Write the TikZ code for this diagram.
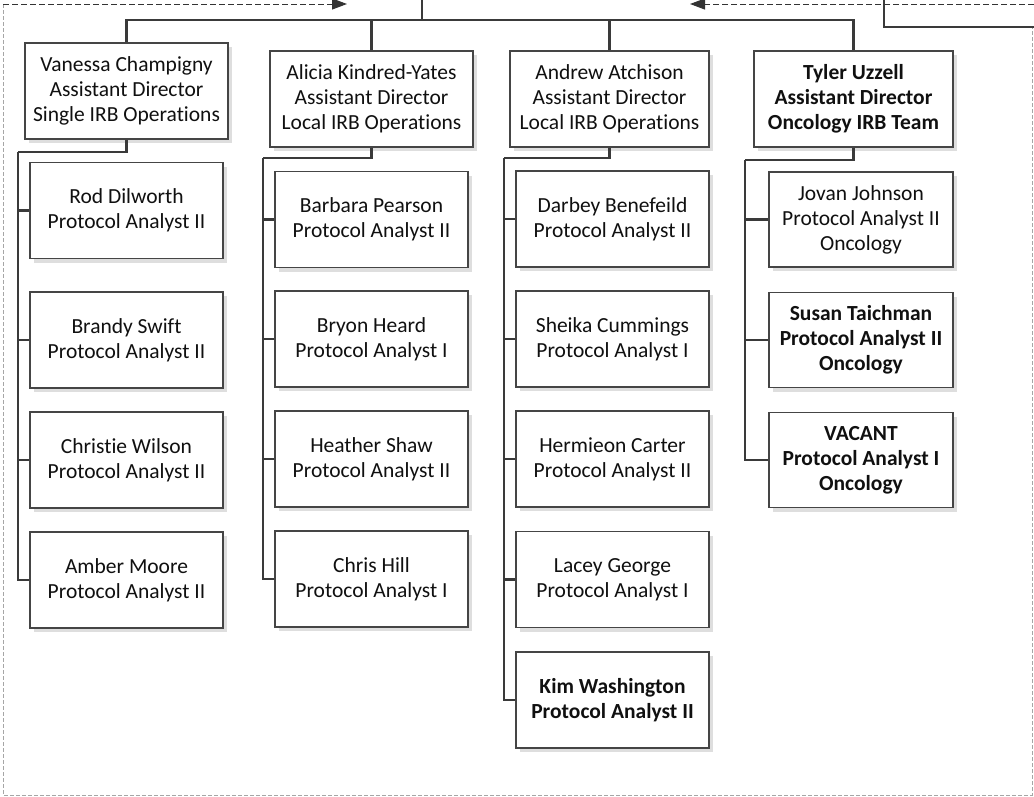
\documentclass[tikz,border=0pt]{standalone}
\usepackage{fontspec}
\setmainfont{Carlito}[Ligatures=NoCommon]
\usetikzlibrary{shadows,arrows.meta}
\definecolor{lineC}{HTML}{3A3A3A}
\definecolor{boxC}{HTML}{454545}
\definecolor{txtC}{HTML}{101010}
\definecolor{frameC}{HTML}{A6A6A6}
\definecolor{arrC}{HTML}{333333}
\newcommand\boxfont{\fontsize{21.5}{25}\selectfont}
\tikzset{
  conn/.style={line width=2.8pt, draw=lineC},
  box/.style={draw=boxC, line width=1.9pt, fill=white, inner sep=0pt, align=center,
    font=\boxfont, text=txtC,
    drop shadow={shadow xshift=4pt, shadow yshift=-4pt, fill=black!13, opacity=1}},
  pbox/.style={box, minimum width=203pt, minimum height=96pt},
  pboxn/.style={box, minimum width=199pt, minimum height=96pt},
  cbox/.style={box, minimum width=193pt, minimum height=96pt},
  tbox/.style={box, minimum width=184pt, minimum height=95pt},
  darr/.style={draw=arrC, line width=1pt, dash pattern=on 6pt off 3pt, -{Triangle[length=15pt,width=11pt]}},
  frame/.style={draw=frameC, line width=1pt, dash pattern=on 4pt off 2pt},
}
\begin{document}
\begin{tikzpicture}[x=1pt,y=-1pt]
\useasboundingbox (0,0) rectangle (1034,796);
% frame
\draw[frame] (3,4) -- (3,795) -- (1032,795) -- (1032,27);
% coordinates
\coordinate (la0) at (3,4);
\coordinate (la1) at (347,4);
\coordinate (ra0) at (1034,4);
\coordinate (ra1) at (690,4);
\coordinate (top) at (422,0);
\coordinate (hub) at (422,20);
\coordinate (rt0) at (884,0);
\coordinate (rt1) at (1034,27);
\coordinate (vj) at (18,152);
\coordinate (aj) at (263,158);
\coordinate (nj) at (504,158);
\coordinate (tj) at (745,160);
% dashed arrows
\draw[darr] (la0) -- (la1);
\draw[darr] (ra0) -- (ra1);
% parents
\node[pbox] (van) at (126.5,91) {Vanessa Champigny\\Assistant Director\\Single IRB Operations};
\node[pbox] (ali) at (371.5,99) {Alicia Kindred-Yates\\Assistant Director\\Local IRB Operations};
\node[pboxn] (andr) at (609.5,99) {Andrew Atchison\\Assistant Director\\Local IRB Operations};
\node[pboxn, font=\boxfont\bfseries] (tyl) at (853.5,99) {Tyler Uzzell\\Assistant Director\\Oncology IRB Team};
% Vanessa children
\node[cbox] (rod) at (126.5,210.5) {Rod Dilworth\\Protocol Analyst II};
\node[cbox] (bra) at (126.5,340) {Brandy Swift\\Protocol Analyst II};
\node[cbox] (chr) at (126.5,460) {Christie Wilson\\Protocol Analyst II};
\node[cbox] (amb) at (126.5,580) {Amber Moore\\Protocol Analyst II};
% Alicia children
\node[cbox] (bar) at (371.5,219.5) {Barbara Pearson\\Protocol Analyst II};
\node[cbox] (bry) at (371.5,339) {Bryon Heard\\Protocol Analyst I};
\node[cbox] (hea) at (371.5,459) {Heather Shaw\\Protocol Analyst II};
\node[cbox] (chi) at (371.5,579) {Chris Hill\\Protocol Analyst I};
% Andrew children
\node[cbox] (dar) at (612.5,219) {Darbey Benefeild\\Protocol Analyst II};
\node[cbox] (she) at (612.5,339) {Sheika Cummings\\Protocol Analyst I};
\node[cbox] (her) at (612.5,459) {Hermieon Carter\\Protocol Analyst II};
\node[cbox] (lac) at (612.5,579.5) {Lacey George\\Protocol Analyst I};
\node[cbox, font=\boxfont\bfseries] (kim) at (612.5,700) {Kim Washington\\Protocol Analyst II};
% Tyler children
\node[tbox] (jov) at (861,219.5) {Jovan Johnson\\Protocol Analyst II\\Oncology};
\node[tbox, font=\boxfont\bfseries] (sus) at (861,340) {Susan Taichman\\Protocol Analyst II\\Oncology};
\node[tbox, font=\boxfont\bfseries] (vac) at (861,460) {VACANT\\Protocol Analyst I\\Oncology};
% top connectors
\draw[conn] (top) -- (hub);
\draw[conn] (rt0) |- (rt1);
\draw[conn] (van.north) |- (hub);
\draw[conn] (ali.north) |- (hub);
\draw[conn] (andr.north) |- (hub);
\draw[conn] (tyl.north) |- (hub);
% group connectors
\draw[conn] (van.south) |- (vj);
\foreach \c in {rod,bra,chr,amb} \draw[conn] (vj) |- (\c.west);
\draw[conn] (ali.south) |- (aj);
\foreach \c in {bar,bry,hea,chi} \draw[conn] (aj) |- (\c.west);
\draw[conn] (andr.south) |- (nj);
\foreach \c in {dar,she,her,lac,kim} \draw[conn] (nj) |- (\c.west);
\draw[conn] (tyl.south) |- (tj);
\foreach \c in {jov,sus,vac} \draw[conn] (tj) |- (\c.west);
\end{tikzpicture}
\end{document}
